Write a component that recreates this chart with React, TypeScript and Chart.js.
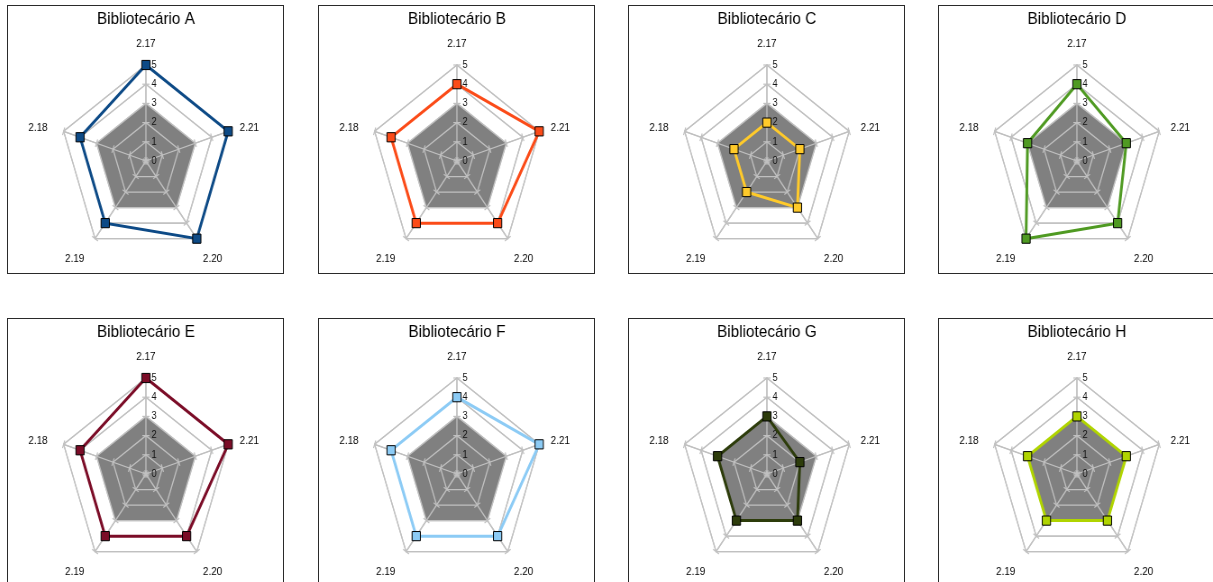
import React, { useEffect, useRef } from "react";
import { Chart, registerables } from "chart.js";

Chart.register(...registerables);

// Axis labels in clockwise drawing order, starting at the top.
const axisLabels = ["2.17", "2.21", "2.20", "2.19", "2.18"];

// Shaded reference band drawn behind every profile.
const referenceLevel = [3, 3, 3, 3, 3];

const scoresA = [5, 5, 5, 4, 4];
const scoresB = [4, 5, 4, 4, 4];
const scoresC = [2, 2, 3, 2, 2];
const scoresD = [4, 3, 4, 5, 3];
const scoresE = [5, 5, 4, 4, 4];
const scoresF = [4, 5, 4, 4, 4];
const scoresG = [3, 2, 3, 3, 3];
const scoresH = [3, 3, 3, 3, 3];

const titles = [
  "Bibliotecário A",
  "Bibliotecário B",
  "Bibliotecário C",
  "Bibliotecário D",
  "Bibliotecário E",
  "Bibliotecário F",
  "Bibliotecário G",
  "Bibliotecário H",
];
const allScores = [scoresA, scoresB, scoresC, scoresD, scoresE, scoresF, scoresG, scoresH];
const lineColors = ["#0d4a86", "#fb4b18", "#ffca2a", "#4f9a22", "#7b0c27", "#8ccbf5", "#2d3c0b", "#b0d400"];

const FONT = "'Liberation Sans', Arial, sans-serif";
const GRID = "#c0c0c0";

// The drawing buffer is wider than the displayed canvas, so everything is
// squeezed horizontally by this factor.
const SQUEEZE = 0.9;
const PANEL_W = 277;
const PANEL_H = 269;
const BORDER = 1.5;
const CANVAS_CSS_W = PANEL_W - 2 * BORDER;
const CANVAS_CSS_H = PANEL_H - 2 * BORDER;
const CANVAS_W = Math.round(CANVAS_CSS_W / SQUEEZE);
const CANVAS_H = CANVAS_CSS_H;

// Redraws the web over the shaded band, adds the small cross ticks on every spoke
// and writes the value labels beside the vertical spoke; then the axis labels.
const webOverlay = {
  id: "webOverlay",
  afterDatasetDraw(chart: any, args: any) {
    if (args.index !== 1) return;
    const scale: any = chart.scales.r;
    const ctx: CanvasRenderingContext2D = chart.ctx;
    ctx.save();
    if (typeof scale.drawGrid === "function") scale.drawGrid();
    const n = chart.data.labels.length;
    ctx.strokeStyle = GRID;
    ctx.lineWidth = 1.2;
    scale.ticks.forEach((t: any) => {
      const d = scale.getDistanceFromCenterForValue(t.value);
      for (let i = 0; i < n; i++) {
        const p = scale.getPointPosition(i, d);
        const px = -Math.sin(p.angle) * 4;
        const py = Math.cos(p.angle) * 4;
        ctx.beginPath();
        ctx.moveTo(p.x - px, p.y - py);
        ctx.lineTo(p.x + px, p.y + py);
        ctx.stroke();
      }
    });
    ctx.fillStyle = "#111";
    ctx.font = `10px ${FONT}`;
    ctx.textAlign = "center";
    ctx.textBaseline = "middle";
    scale.ticks.forEach((t: any) => {
      const d = scale.getDistanceFromCenterForValue(t.value);
      ctx.fillText(String(t.label), scale.xCenter + 9, scale.yCenter - d);
    });
    ctx.restore();
  },
  afterDraw(chart: any) {
    const scale: any = chart.scales.r;
    const ctx: CanvasRenderingContext2D = chart.ctx;
    ctx.save();
    ctx.fillStyle = "#000";
    ctx.font = `11px ${FONT}`;
    chart.data.labels.forEach((lbl: string, i: number) => {
      const p = scale.getPointPosition(i, scale.drawingArea + 16);
      const cx = Math.cos(p.angle);
      const cy = Math.sin(p.angle);
      const top = cy < -0.9;
      ctx.textAlign = Math.abs(cx) < 0.1 ? "center" : cx > 0 ? "left" : "right";
      ctx.textBaseline = top ? "bottom" : cy > 0.5 ? "top" : "middle";
      ctx.fillText(lbl, top ? p.x : p.x - 2.5, top ? p.y : p.y + 2);
    });
    ctx.restore();
  },
};

function RadarPanel(props: { title: string; scores: number[]; color: string; left: number; top: number }) {
  const ref = useRef<HTMLCanvasElement>(null);
  const { title, scores, color, left, top } = props;

  useEffect(() => {
    if (!ref.current) return;
    const chart = new Chart(ref.current, {
      type: "radar",
      data: {
        labels: axisLabels,
        datasets: [
          {
            data: scores,
            borderColor: color,
            borderWidth: 3,
            backgroundColor: color,
            fill: false,
            pointStyle: "rect",
            pointRadius: 6.5,
            pointBackgroundColor: color,
            pointBorderColor: "#000",
            pointBorderWidth: 1,
          },
          {
            data: referenceLevel,
            borderWidth: 0,
            borderColor: "rgba(0,0,0,0)",
            backgroundColor: "#808080",
            fill: true,
            pointRadius: 0,
          },
        ],
      },
      options: {
        responsive: false,
        animation: false,
        devicePixelRatio: 1,
        layout: { padding: { left: 57, right: CANVAS_W - 57 - 192, top: 0, bottom: CANVAS_H - 59.5 - 192 } },
        plugins: {
          legend: { display: false },
          tooltip: { enabled: false },
          title: {
            display: true,
            text: title,
            color: "#000",
            font: { family: FONT, size: 17, weight: "normal", lineHeight: 1.2 },
            padding: { top: 3.5, bottom: 59.5 - 3.5 - 20.4 },
          },
        },
        scales: {
          r: {
            min: 0,
            max: 5,
            ticks: { stepSize: 1, display: false },
            pointLabels: { display: false },
            grid: { color: GRID, lineWidth: 1.3 },
            angleLines: { color: GRID, lineWidth: 1.3 },
          },
        },
      },
      plugins: [webOverlay],
    } as any);
    return () => chart.destroy();
  }, [title, scores, color]);

  return (
    <div
      style={{
        position: "absolute",
        left,
        top,
        width: PANEL_W,
        height: PANEL_H,
        border: `${BORDER}px solid #2a2a2a`,
        boxSizing: "border-box",
        background: "#fff",
      }}
    >
      <canvas
        ref={ref}
        width={CANVAS_W}
        height={CANVAS_H}
        style={{ display: "block", width: CANVAS_CSS_W, height: CANVAS_CSS_H }}
      />
    </div>
  );
}

const panelLefts = [7, 318, 628, 938];
const panelTops = [5, 318];

export default function App() {
  return (
    <div
      style={{
        position: "fixed",
        left: 0,
        top: 0,
        width: 1213,
        height: 582,
        background: "#fff",
        overflow: "hidden",
      }}
    >
      {titles.map((t, i) => (
        <RadarPanel
          key={t}
          title={t}
          scores={allScores[i]}
          color={lineColors[i]}
          left={panelLefts[i % 4]}
          top={panelTops[Math.floor(i / 4)]}
        />
      ))}
    </div>
  );
}
